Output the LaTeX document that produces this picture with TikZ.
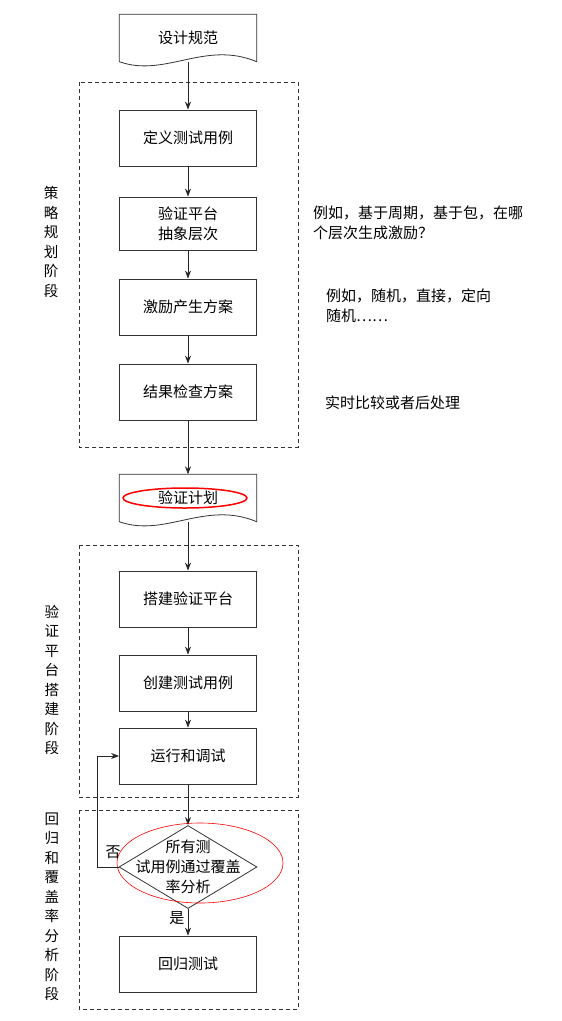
\documentclass[tikz,border=0pt]{standalone}
\usepackage{fontspec}
\setmainfont{Noto Sans CJK SC}
\usetikzlibrary{shapes.geometric,arrows.meta,positioning}

\begin{document}
\begin{tikzpicture}[
    x=1pt, y=-1pt,
    % Style for the process boxes
    procBox/.style={
        rectangle,
        draw=black!80,
        line width=0.8pt,
        minimum width=137pt,
        minimum height=56pt,
        align=center,
        font=\fontsize{15}{20}\selectfont
    },
    % Style for the document shapes (outline drawn separately)
    docBox/.style={
        rectangle,
        minimum width=137pt,
        minimum height=47pt,
        inner sep=0pt,
        font=\fontsize{15}{20}\selectfont
    },
    docEdge/.style={
        draw=black!80,
        line width=0.8pt
    },
    % Style for the decision diamond
    decision/.style={
        diamond,
        draw=black!80,
        line width=0.8pt,
        inner sep=0pt,
        minimum width=138pt,
        minimum height=83pt
    },
    % Style for the dashed phase frames
    phaseFrame/.style={
        draw=black!80,
        line width=0.7pt,
        dash pattern=on 4pt off 3pt
    },
    % Style for the vertical phase labels
    phaseLabel/.style={
        align=center,
        inner sep=0pt,
        font=\fontsize{14.5}{19.5}\selectfont
    },
    % Style for the notes on the right
    noteText/.style={
        align=left,
        anchor=west,
        inner sep=0pt,
        font=\fontsize{15}{20}\selectfont
    },
    % Style for the arrows
    arrowStyle/.style={
        draw=black!85,
        line width=0.8pt,
        -{Stealth[length=8pt,width=6pt]}
    },
    % Style for the red marks
    redMark/.style={
        draw=red
    }
]

    \useasboundingbox (0,0) rectangle (562,1021);

    % --- PHASE FRAMES ---
    \draw[phaseFrame] (79,82) rectangle (298,447);
    \draw[phaseFrame] (79,545) rectangle (298,797);
    \draw[phaseFrame] (79,810) rectangle (298,1009);

    \node[phaseLabel] (lblPlan) at (51,242) {策\\略\\规\\划\\阶\\段};
    \node[phaseLabel] (lblBuild) at (52,680) {验\\证\\平\\台\\搭\\建\\阶\\段};
    \node[phaseLabel] (lblRegr) at (52,907) {回\\归\\和\\覆\\盖\\率\\分\\析\\阶\\段};

    % --- DOCUMENT: SPEC ---
    \node[docBox] (spec) at (188,38) {设计规范};
    \draw[docEdge] (spec.south west) -- (spec.north west) -- (spec.north east)
        -- (spec.south east) .. controls (205,40) and (165,78) .. (spec.south west);

    % --- PLANNING PHASE ---
    \node[procBox] (defTest) at (188,138) {定义测试用例};
    \node[procBox, minimum height=53pt] (abstr) at (188,223.5) {验证平台\\抽象层次};
    \node[procBox] (stim) at (188,307) {激励产生方案};
    \node[procBox] (check) at (188,392) {结果检查方案};

    \node[noteText] (noteAbstr) at (313,223) {例如，基于周期，基于包，在哪\\个层次生成激励？};
    \node[noteText] (noteStim) at (326,306) {例如，随机，直接，定向\\随机……};
    \node[noteText] (noteCheck) at (325,403) {实时比较或者后处理};

    % --- DOCUMENT: PLAN ---
    \node[docBox] (plan) at (188,498) {验证计划};
    \draw[docEdge] (plan.south west) -- (plan.north west) -- (plan.north east)
        -- (plan.south east) .. controls (205,500) and (165,538) .. (plan.south west);
    \draw[redMark, line width=1.5pt] (185,498) ellipse (62pt and 10pt);

    % --- BUILD PHASE ---
    \node[procBox] (bench) at (188,599) {搭建验证平台};
    \node[procBox] (create) at (188,683) {创建测试用例};
    \node[procBox] (run) at (188,756) {运行和调试};

    % --- REGRESSION PHASE ---
    \node[decision] (cover) at (188,867) {};
    \node[align=center, inner sep=0pt, font=\fontsize{15}{20}\selectfont]
        (coverText) at (cover) {所有测\\试用例通过覆盖\\率分析};
    \draw[redMark, line width=0.6pt] (200,863) ellipse (83pt and 40pt);
    \node[procBox] (regr) at (188,964) {回归测试};

    % --- ARROWS ---
    \draw[arrowStyle] (spec.south) -- (defTest);
    \draw[arrowStyle] (defTest) -- (abstr);
    \draw[arrowStyle] (abstr) -- (stim);
    \draw[arrowStyle] (stim) -- (check);
    \draw[arrowStyle] (check) -- (plan.north);
    \draw[arrowStyle] (plan.south) -- (bench);
    \draw[arrowStyle] (bench) -- (create);
    \draw[arrowStyle] (create) -- (run);
    \draw[arrowStyle] (run) -- (cover.north);
    \draw[arrowStyle] (cover.south) -- node[left, pos=0.35, font=\fontsize{15}{20}\selectfont] {是} (regr);
    \draw[arrowStyle] (cover.west) -- ++(-21,0) |- (run.west);
    \node[font=\fontsize{15}{20}\selectfont, inner sep=0pt] (noLabel) at (113,852) {否};

\end{tikzpicture}
\end{document}
